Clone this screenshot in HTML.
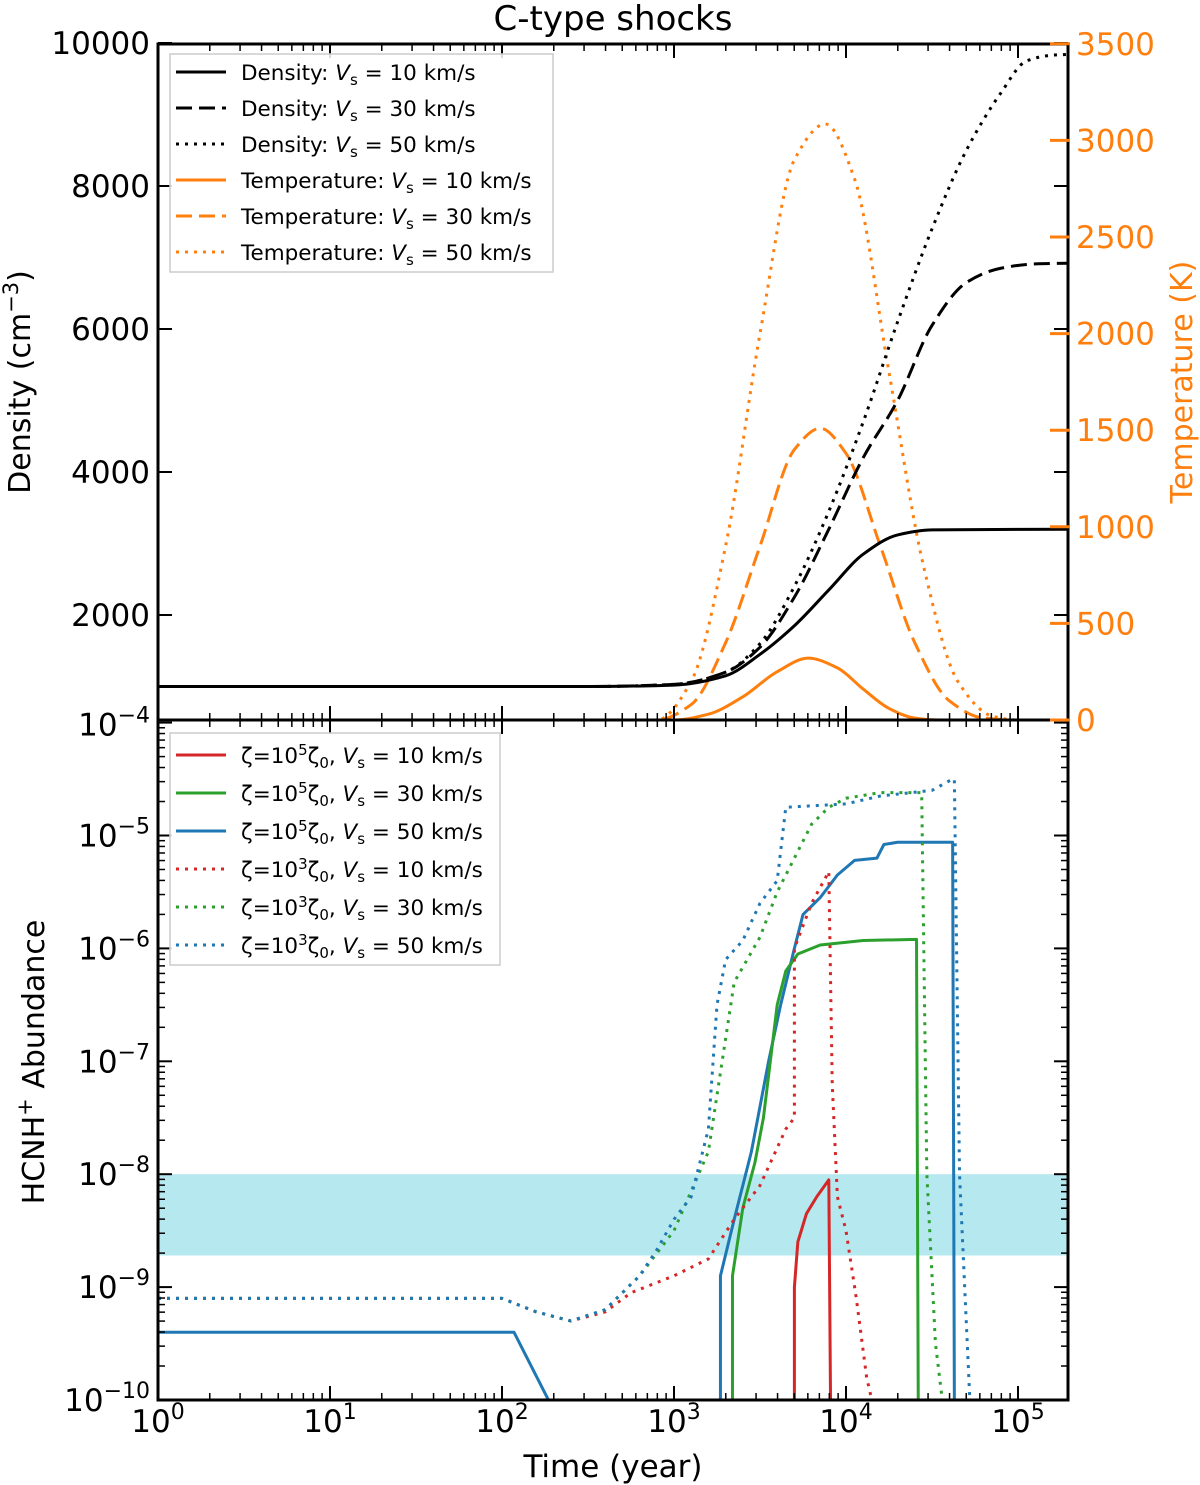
<!DOCTYPE html>
<html><head><meta charset="utf-8"><style>
html,body{margin:0;padding:0;background:#fff;}
svg{display:block;font-family:"DejaVu Sans","Liberation Sans",sans-serif;}
</style></head><body>
<svg id="c" width="1200" height="1485" xmlns="http://www.w3.org/2000/svg"></svg>
<script>
// ---- data (log10 time, value) ----
const d10 = [[0,1000],[2.5,1000],[3,1020],[3.3,1150],[3.5,1450],[3.7,1850],[3.9,2350],[4.1,2850],[4.3,3120],[4.5,3190],[5.29,3200]];
const d30 = [[0,1000],[2.5,1000],[3,1030],[3.3,1200],[3.5,1550],[3.7,2250],[3.9,3200],[4.1,4200],[4.3,5000],[4.5,6050],[4.7,6650],[4.9,6850],[5.1,6910],[5.29,6920]];
const d50 = [[0,1000],[2.5,1000],[3,1030],[3.3,1200],[3.5,1600],[3.7,2400],[3.9,3450],[4.1,4700],[4.3,6100],[4.5,7400],[4.7,8500],[4.9,9300],[5.05,9750],[5.2,9830],[5.29,9840]];
const t10 = [[0,0],[3.0,0],[3.2,30],[3.4,120],[3.6,250],[3.78,320],[3.95,270],[4.1,160],[4.25,60],[4.4,10],[4.55,0],[5.29,0]];
const t30 = [[0,0],[2.9,0],[3.1,80],[3.3,400],[3.5,900],[3.7,1400],[3.85,1510],[4.0,1380],[4.2,900],[4.4,400],[4.6,100],[4.8,10],[5.0,0],[5.29,0]];
const t50 = [[0,0],[2.9,0],[3.1,200],[3.3,900],[3.5,2000],[3.7,2900],[3.88,3085],[4.05,2800],[4.25,1800],[4.45,800],[4.65,200],[4.85,20],[5.0,0],[5.29,0]];
const a5_10 = [[3.7,-10],[3.7,-9.0],[3.72,-8.6],[3.77,-8.35],[3.83,-8.2],[3.9,-8.05],[3.91,-10]];
const a5_30 = [[3.34,-10],[3.34,-8.9],[3.4,-8.3],[3.47,-7.9],[3.52,-7.5],[3.56,-7.0],[3.6,-6.5],[3.65,-6.2],[3.72,-6.05],[3.85,-5.97],[4.1,-5.93],[4.41,-5.92],[4.42,-10]];
const a5_50a = [[0,-9.4],[2.07,-9.4],[2.27,-10]];
const a5_50 = [[3.27,-10],[3.27,-8.9],[3.35,-8.4],[3.45,-7.8],[3.55,-7.0],[3.62,-6.5],[3.7,-6.0],[3.75,-5.7],[3.85,-5.55],[3.95,-5.35],[4.05,-5.22],[4.18,-5.2],[4.22,-5.08],[4.3,-5.06],[4.62,-5.06],[4.63,-10]];
const a3_10 = [[0,-9.1],[2.0,-9.1],[2.2,-9.22],[2.4,-9.3],[2.6,-9.22],[2.75,-9.05],[3.0,-8.9],[3.2,-8.75],[3.35,-8.4],[3.5,-8.1],[3.65,-7.6],[3.7,-7.5],[3.7,-6.0],[3.8,-5.6],[3.9,-5.32],[3.92,-7.2],[3.95,-8.2],[4.0,-8.5],[4.06,-9.1],[4.12,-9.8],[4.15,-10]];
const a3_30 = [[0,-9.1],[2.0,-9.1],[2.2,-9.22],[2.4,-9.3],[2.6,-9.2],[2.8,-8.9],[2.9,-8.7],[3.0,-8.5],[3.2,-7.8],[3.3,-6.8],[3.35,-6.3],[3.5,-5.9],[3.6,-5.5],[3.7,-5.2],[3.8,-4.9],[3.9,-4.75],[4.0,-4.67],[4.2,-4.62],[4.44,-4.62],[4.47,-8],[4.52,-9.5],[4.56,-10]];
const a3_50 = [[0,-9.1],[2.0,-9.1],[2.2,-9.22],[2.4,-9.3],[2.6,-9.2],[2.8,-8.9],[2.9,-8.67],[3.0,-8.4],[3.1,-8.2],[3.2,-7.6],[3.25,-6.5],[3.3,-6.1],[3.4,-5.93],[3.5,-5.6],[3.6,-5.4],[3.65,-4.75],[4.0,-4.72],[4.2,-4.65],[4.5,-4.6],[4.62,-4.5],[4.63,-4.5],[4.66,-8],[4.72,-10]];
const bandLo = -8.72, bandHi = -8.0;
const xTicks = [0,1,2,3,4,5];
const densTicks = [2000,4000,6000,8000,10000];
const tempTicks = [0,500,1000,1500,2000,2500,3000,3500];
const abTicks = [-10,-9,-8,-7,-6,-5,-4];

const L=158,R=1068,T1=44,B1=720,T2=720,B2=1400;
const X=lx=>L+lx*172;
const YD=v=>758-(v/2000)*143;
const YT=v=>720-(v/500)*96.6;
const YA=la=>1400-(la+10)*112.9;
const NS="http://www.w3.org/2000/svg";
const svg=document.getElementById('c');
function el(tag,attrs,parent){const e=document.createElementNS(NS,tag);for(const k in attrs)e.setAttribute(k,attrs[k]);(parent||svg).appendChild(e);return e;}
const cp=el('defs',{});
const c1=el('clipPath',{id:'cp1'},cp);el('rect',{x:L,y:T1,width:R-L,height:B1-T1},c1);
const c2=el('clipPath',{id:'cp2'},cp);el('rect',{x:L,y:T2,width:R-L,height:B2-T2},c2);
const BL='#1f77b4',OR='#ff7f0e',GR='#2ca02c',RD='#d62728';
// monotone cubic path
function smoothPath(pts){
  const n=pts.length, dx=[], s=[], m=[];
  for(let i=0;i<n-1;i++){dx[i]=pts[i+1][0]-pts[i][0];s[i]=(pts[i+1][1]-pts[i][1])/dx[i];}
  m[0]=s[0];m[n-1]=s[n-2];
  for(let i=1;i<n-1;i++){ if(s[i-1]*s[i]<=0)m[i]=0; else m[i]=3*(dx[i-1]+dx[i])/((2*dx[i]+dx[i-1])/s[i-1]+(dx[i]+2*dx[i-1])/s[i]); }
  let d='M'+pts[0][0]+','+pts[0][1];
  for(let i=0;i<n-1;i++){const h=dx[i];
    d+=' C'+(pts[i][0]+h/3)+','+(pts[i][1]+m[i]*h/3)+' '+(pts[i+1][0]-h/3)+','+(pts[i+1][1]-m[i+1]*h/3)+' '+pts[i+1][0]+','+pts[i+1][1];}
  return d;
}
function sline(data,yf,color,dash,clip,name){
  const pts=data.map(d=>[X(d[0]),yf(d[1])]);
  const p=el('path',{d:smoothPath(pts),fill:'none',stroke:color,'stroke-width':3,'stroke-dasharray':dash||'none','clip-path':'url(#'+clip+')'});
  
  
}
function line(data,yf,color,dash,clip,name){
  const p=el('polyline',{points:data.map(d=>X(d[0])+','+yf(d[1])).join(' '),fill:'none',stroke:color,'stroke-width':3,'stroke-dasharray':dash||'none','stroke-linejoin':'round','clip-path':'url(#'+clip+')'});
  
  
}
// band
const band=el('rect',{x:L,y:YA(bandHi),width:R-L,height:YA(bandLo)-YA(bandHi),fill:'#b6e8ef'});


// top series
sline(t10,YT,OR,'',"cp1",'temperature-10kms');
sline(t30,YT,OR,'16,7',"cp1",'temperature-30kms');
sline(t50,YT,OR,'3,6',"cp1",'temperature-50kms');
sline(d10,YD,'#000','',"cp1",'density-10kms');
sline(d30,YD,'#000','16,7',"cp1",'density-30kms');
sline(d50,YD,'#000','3,6',"cp1",'density-50kms');
// bottom series
line(a5_50a,YA,BL,'',"cp2",'abundance-1e5-50kms-early');
line(a5_50,YA,BL,'',"cp2",'abundance-1e5-50kms');
line(a5_30,YA,GR,'',"cp2",'abundance-1e5-30kms');
line(a5_10,YA,RD,'',"cp2",'abundance-1e5-10kms');
line(a3_10,YA,RD,'3,6',"cp2",'abundance-1e3-10kms');
line(a3_30,YA,GR,'3,6',"cp2",'abundance-1e3-30kms');
line(a3_50,YA,BL,'3,6',"cp2",'abundance-1e3-50kms');
// frames
el('rect',{x:L,y:T1,width:R-L,height:B2-T1,fill:'none',stroke:'#000','stroke-width':3});
el('line',{x1:L,x2:R,y1:B1,y2:B1,stroke:'#000','stroke-width':3});
function tick(x1,y1,x2,y2,c,w){el('line',{x1,y1,x2,y2,stroke:c||'#000','stroke-width':w||2});}
for(const d of xTicks){for(const yy of [[T1,T1+14],[B1-14,B1+14],[B2-14,B2]])tick(X(d),yy[0],X(d),yy[1],'#000',2);
  for(let m=2;m<10&&d<5.3;m++){const x=X(d+Math.log10(m));if(x>R)break;for(const yy of [[T1,T1+7],[B1-7,B1+7],[B2-7,B2]])tick(x,yy[0],x,yy[1],'#000',1.5);}
  const t=el('text',{x:X(d),y:1432,'font-size':31,'text-anchor':'middle'});t.innerHTML='10<tspan dy="-13" font-size="22">'+d+'</tspan>';
  
  
}
for(const v of densTicks){tick(L,YD(v),L+14,YD(v));tick(R-14,YD(v),R,YD(v));
  const t=el('text',{x:150,y:YD(v)+11,'font-size':31,'text-anchor':'end'});t.textContent=v;
  
  }
for(const v of tempTicks){tick(R-18,YT(v),R+2,YT(v),OR,3);
  const t=el('text',{x:1076,y:YT(v)+11,'font-size':31,fill:OR});t.textContent=v;
  
  }
for(const v of abTicks){tick(L,YA(v),L+14,YA(v));tick(R-14,YA(v),R,YA(v));
  for(let m=2;m<10&&v<-4;m++){const y=YA(v+Math.log10(m));tick(L,y,L+7,y,'#000',1.5);tick(R-7,y,R,y,'#000',1.5);}
  const t=el('text',{x:150,y:YA(v)+(v==-4?13:11),'font-size':31,'text-anchor':'end'});t.innerHTML='10<tspan dy="-13" font-size="22">\u2212'+(-v)+'</tspan>';
  
  }
</script>
<svg width="1200" height="1485" style="position:absolute;left:0;top:0" xmlns="http://www.w3.org/2000/svg">
<g font-family="DejaVu Sans, Liberation Sans, sans-serif">
<text x="613" y="30" font-size="34" text-anchor="middle">C-type shocks</text>
<text transform="translate(30,382) rotate(-90)" font-size="30" text-anchor="middle">Density (cm<tspan dy="-12" font-size="21">−3</tspan><tspan dy="12">)</tspan></text>
<text transform="translate(1192,382) rotate(-90)" font-size="30" text-anchor="middle" fill="#ff7f0e">Temperature (K)</text>
<text transform="translate(44,1062) rotate(-90)" font-size="30" text-anchor="middle">HCNH<tspan dy="-12" font-size="21">+</tspan><tspan dy="12"> Abundance</tspan></text>
<text x="613" y="1477" font-size="31" text-anchor="middle">Time (year)</text>
<g font-size="21.5">
<rect x="170" y="54" width="383" height="218" fill="#fff" fill-opacity="0.85" stroke="#ccc" stroke-width="1.5"/>
<line x1="176" x2="226" y1="72" y2="72" stroke="#000" stroke-width="3"/><text x="241" y="80">Density: <tspan font-style="italic">V</tspan><tspan font-size="15" dy="5">s</tspan><tspan dy="-5"> = 10 km/s</tspan></text>
<line x1="176" x2="226" y1="108" y2="108" stroke="#000" stroke-width="3" stroke-dasharray="16,7"/><text x="241" y="116">Density: <tspan font-style="italic">V</tspan><tspan font-size="15" dy="5">s</tspan><tspan dy="-5"> = 30 km/s</tspan></text>
<line x1="176" x2="226" y1="144" y2="144" stroke="#000" stroke-width="3" stroke-dasharray="3,6"/><text x="241" y="152">Density: <tspan font-style="italic">V</tspan><tspan font-size="15" dy="5">s</tspan><tspan dy="-5"> = 50 km/s</tspan></text>
<line x1="176" x2="226" y1="180" y2="180" stroke="#ff7f0e" stroke-width="3"/><text x="241" y="188">Temperature: <tspan font-style="italic">V</tspan><tspan font-size="15" dy="5">s</tspan><tspan dy="-5"> = 10 km/s</tspan></text>
<line x1="176" x2="226" y1="216" y2="216" stroke="#ff7f0e" stroke-width="3" stroke-dasharray="16,7"/><text x="241" y="224">Temperature: <tspan font-style="italic">V</tspan><tspan font-size="15" dy="5">s</tspan><tspan dy="-5"> = 30 km/s</tspan></text>
<line x1="176" x2="226" y1="252" y2="252" stroke="#ff7f0e" stroke-width="3" stroke-dasharray="3,6"/><text x="241" y="260">Temperature: <tspan font-style="italic">V</tspan><tspan font-size="15" dy="5">s</tspan><tspan dy="-5"> = 50 km/s</tspan></text>
</g>
<g font-size="21.5">
<rect x="170" y="733" width="330" height="232" fill="#fff" fill-opacity="0.85" stroke="#ccc" stroke-width="1.5"/>
<line x1="176" x2="226" y1="755" y2="755" stroke="#d62728" stroke-width="3"/><text x="241" y="763">ζ=10<tspan font-size="15" dy="-8">5</tspan><tspan dy="8">ζ</tspan><tspan font-size="15" dy="5">0</tspan><tspan dy="-5">, </tspan><tspan font-style="italic">V</tspan><tspan font-size="15" dy="5">s</tspan><tspan dy="-5"> = 10 km/s</tspan></text>
<line x1="176" x2="226" y1="793" y2="793" stroke="#2ca02c" stroke-width="3"/><text x="241" y="801">ζ=10<tspan font-size="15" dy="-8">5</tspan><tspan dy="8">ζ</tspan><tspan font-size="15" dy="5">0</tspan><tspan dy="-5">, </tspan><tspan font-style="italic">V</tspan><tspan font-size="15" dy="5">s</tspan><tspan dy="-5"> = 30 km/s</tspan></text>
<line x1="176" x2="226" y1="831" y2="831" stroke="#1f77b4" stroke-width="3"/><text x="241" y="839">ζ=10<tspan font-size="15" dy="-8">5</tspan><tspan dy="8">ζ</tspan><tspan font-size="15" dy="5">0</tspan><tspan dy="-5">, </tspan><tspan font-style="italic">V</tspan><tspan font-size="15" dy="5">s</tspan><tspan dy="-5"> = 50 km/s</tspan></text>
<line x1="176" x2="226" y1="869" y2="869" stroke="#d62728" stroke-width="3" stroke-dasharray="3,6"/><text x="241" y="877">ζ=10<tspan font-size="15" dy="-8">3</tspan><tspan dy="8">ζ</tspan><tspan font-size="15" dy="5">0</tspan><tspan dy="-5">, </tspan><tspan font-style="italic">V</tspan><tspan font-size="15" dy="5">s</tspan><tspan dy="-5"> = 10 km/s</tspan></text>
<line x1="176" x2="226" y1="907" y2="907" stroke="#2ca02c" stroke-width="3" stroke-dasharray="3,6"/><text x="241" y="915">ζ=10<tspan font-size="15" dy="-8">3</tspan><tspan dy="8">ζ</tspan><tspan font-size="15" dy="5">0</tspan><tspan dy="-5">, </tspan><tspan font-style="italic">V</tspan><tspan font-size="15" dy="5">s</tspan><tspan dy="-5"> = 30 km/s</tspan></text>
<line x1="176" x2="226" y1="945" y2="945" stroke="#1f77b4" stroke-width="3" stroke-dasharray="3,6"/><text x="241" y="953">ζ=10<tspan font-size="15" dy="-8">3</tspan><tspan dy="8">ζ</tspan><tspan font-size="15" dy="5">0</tspan><tspan dy="-5">, </tspan><tspan font-style="italic">V</tspan><tspan font-size="15" dy="5">s</tspan><tspan dy="-5"> = 50 km/s</tspan></text>
</g>
</g>
</svg>
</body></html>
